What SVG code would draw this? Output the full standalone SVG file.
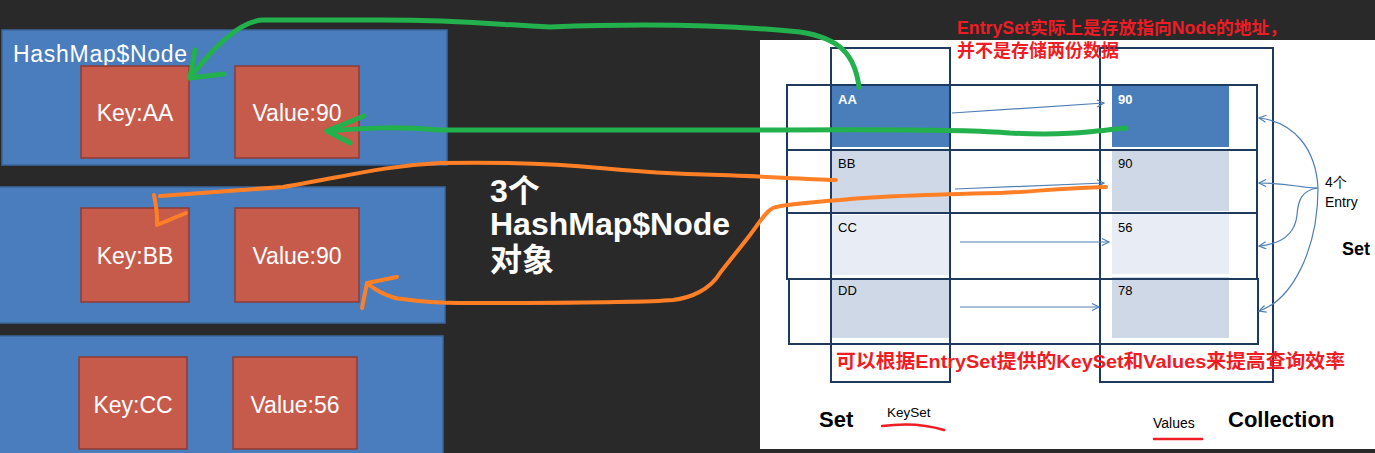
<svg xmlns="http://www.w3.org/2000/svg" width="1375" height="453" viewBox="0 0 1375 453">
<defs>
<marker id="oa" markerWidth="10" markerHeight="10" refX="8" refY="4" orient="auto" markerUnits="userSpaceOnUse">
<path d="M1,0.5 L8,4 L1,7.5" fill="none" stroke="#4f7fb5" stroke-width="1.2"/>
</marker>
</defs>
<style>
.outer{fill:#4a7dbd;stroke:#3b679c;stroke-width:1.5}
.kv{fill:#c75b4b;stroke:#8c3b34;stroke-width:1.5}
.kvt{font-family:"Liberation Sans",Arial,sans-serif;font-size:23px;fill:#fff;text-anchor:middle}
.grid{fill:none;stroke:#1f3a5f;stroke-width:2}
.cell{font-family:"Liberation Sans",Arial,sans-serif;font-size:13px;fill:#000}
.thin{fill:none;stroke:#4f7fb5;stroke-width:1.2}
.green{fill:none;stroke:#22b14c;stroke-width:5;stroke-linecap:round;stroke-linejoin:round}
.orange{fill:none;stroke:#ff7f27;stroke-width:4;stroke-linecap:round;stroke-linejoin:round}
.red{font-family:"Liberation Sans","Noto Sans CJK SC",sans-serif;font-weight:bold;fill:#ee1c25}
.bk{font-family:"Liberation Sans",Arial,sans-serif;fill:#000}
</style>
<rect x="0" y="0" width="1375" height="453" fill="#292929"/>

<g id="node-aa">
<rect class="outer" x="2" y="30" width="445" height="135"/>
<text x="13" y="62" font-family="Liberation Sans,Arial,sans-serif" font-size="23" fill="#fff" textLength="174">HashMap$Node</text>
<rect class="kv" x="81" y="66" width="108" height="92"/>
<text class="kvt" x="135" y="121">Key:AA</text>
<rect class="kv" x="235" y="66" width="124" height="92"/>
<text class="kvt" x="297" y="121">Value:90</text>
</g>
<g id="node-bb">
<rect class="outer" x="-2" y="187" width="447" height="136"/>
<rect class="kv" x="81" y="208" width="108" height="94"/>
<text class="kvt" x="135" y="264">Key:BB</text>
<rect class="kv" x="235" y="208" width="124" height="94"/>
<text class="kvt" x="297" y="264">Value:90</text>
</g>
<g id="node-cc">
<rect class="outer" x="-2" y="336" width="445" height="130"/>
<rect class="kv" x="79" y="357" width="108" height="92"/>
<text class="kvt" x="133" y="413">Key:CC</text>
<rect class="kv" x="233" y="357" width="124" height="92"/>
<text class="kvt" x="295" y="413">Value:56</text>
</g>

<g id="label-3nodes" font-family="Liberation Sans,Noto Sans CJK SC,sans-serif" font-weight="bold" font-size="32" fill="#fff">
<text x="490" y="202">3个</text>
<text x="490" y="235">HashMap$Node</text>
<text x="490" y="271">对象</text>
</g>

<g id="panel">
<rect x="760" y="40" width="615" height="409" fill="#fff"/>
</g>

<g id="keyset-column">
<rect x="832" y="86" width="117" height="61" fill="#4a7ebb"/>
<rect x="832" y="151" width="117" height="61" fill="#cfd8e7"/>
<rect x="832" y="215" width="117" height="60" fill="#e8ecf4"/>
<rect x="832" y="279" width="117" height="59" fill="#cfd8e7"/>
<text class="cell" x="838" y="104" fill="#fff" font-weight="bold" style="fill:#fff">AA</text>
<text class="cell" x="838" y="168">BB</text>
<text class="cell" x="838" y="232">CC</text>
<text class="cell" x="838" y="295">DD</text>
</g>
<g id="values-column">
<rect x="1112" y="86" width="117" height="61" fill="#4a7ebb"/>
<rect x="1112" y="151" width="117" height="60" fill="#cfd8e7"/>
<rect x="1112" y="214" width="117" height="60" fill="#e8ecf4"/>
<rect x="1112" y="277" width="117" height="61" fill="#cfd8e7"/>
<text class="cell" x="1118" y="104" font-weight="bold" style="fill:#fff">90</text>
<text class="cell" x="1118" y="168">90</text>
<text class="cell" x="1118" y="232">56</text>
<text class="cell" x="1118" y="295">78</text>
</g>
<g id="grid">
<rect class="grid" x="831" y="48" width="119" height="334"/>
<rect class="grid" x="1100" y="48" width="173" height="334"/>
<rect class="grid" x="787" y="85" width="470" height="65"/>
<rect class="grid" x="787" y="150" width="470" height="63"/>
<rect class="grid" x="787" y="213" width="470" height="66"/>
<rect class="grid" x="789" y="279" width="469" height="65"/>
</g>

<g id="entry-label" class="bk">
<text x="1325" y="187" font-size="14">4个</text>
<text x="1325" y="207" font-size="14">Entry</text>
<text x="1342" y="255" font-size="18" font-weight="bold">Set</text>
</g>
<g id="bottom-labels" class="bk">
<text x="819" y="427" font-size="22" font-weight="bold">Set</text>
<text x="887" y="417" font-size="13.5">KeySet</text>
<text x="1153" y="428" font-size="14">Values</text>
<text x="1228" y="427" font-size="22" font-weight="bold">Collection</text>
<path d="M882,426 C905,423 925,424 944,430" fill="none" stroke="#ee1c25" stroke-width="2.5" stroke-linecap="round"/>
<path d="M1154,439 L1202,439" fill="none" stroke="#ee1c25" stroke-width="2.5" stroke-linecap="round"/>
</g>

<g id="notes">
<text class="red" x="957" y="34" font-size="17.5" textLength="330" lengthAdjust="spacingAndGlyphs">EntrySet实际上是存放指向Node的地址，</text>
<text class="red" x="957" y="57" font-size="18">并不是存储两份数据</text>
<text class="red" x="836" y="368" font-size="19" textLength="509" lengthAdjust="spacingAndGlyphs">可以根据EntrySet提供的KeySet和Values来提高查询效率</text>
</g>

<g id="connectors">
<path class="thin" d="M952,113 L1104,103" marker-end="url(#oa)"/>
<path class="thin" d="M955,189 L1104,183" marker-end="url(#oa)"/>
<path class="thin" d="M960,242 L1109,242" marker-end="url(#oa)"/>
<path class="thin" d="M960,307 L1099,307" marker-end="url(#oa)"/>
<path class="thin" d="M1318,188 C1316,150 1295,122 1259,118" marker-end="url(#oa)"/>
<path class="thin" d="M1318,188 C1300,188 1290,183 1259,183" marker-end="url(#oa)"/>
<path class="thin" d="M1318,188 C1302,190 1298,200 1297,215 C1295,235 1280,244 1259,246" marker-end="url(#oa)"/>
<path class="thin" d="M1318,188 C1318,250 1292,300 1259,311" marker-end="url(#oa)"/>

<path class="green" d="M859,87 C855,55 840,38 800,32 C700,22 600,25 550,27 C500,25 470,20 380,20 L262,20 C240,22 215,45 190,78"/>
<path class="green" d="M195,50 L190,78 L224,74"/>
<path class="green" d="M1126,128 C1090,132 1060,136 1010,133 C980,130 900,129 760,130 L440,130 C400,127 380,127 327,131"/>
<path class="green" d="M364,116 L327,131 L350,143"/>

<path class="orange" d="M836,180 C800,179 760,176 720,175 C680,174 640,172 600,168 C560,164 500,162 440,163 C380,166 340,178 283,187 L160,196"/>
<path class="orange" d="M154,195 C156,205 158,215 157,225 L186,213"/>
<path class="orange" d="M1106,187 C1060,188 1030,192 1000,193 C950,194 880,196 840,200 C800,203 780,205 773,208 C765,212 760,222 750,235 C740,248 730,260 720,273 C710,290 690,298 673,300 C640,303 500,303 460,303 C430,303 410,300 395,298 C385,295 375,290 367,283"/>
<path class="orange" d="M397,277 L367,283 L362,308"/>
</g>
</svg>
